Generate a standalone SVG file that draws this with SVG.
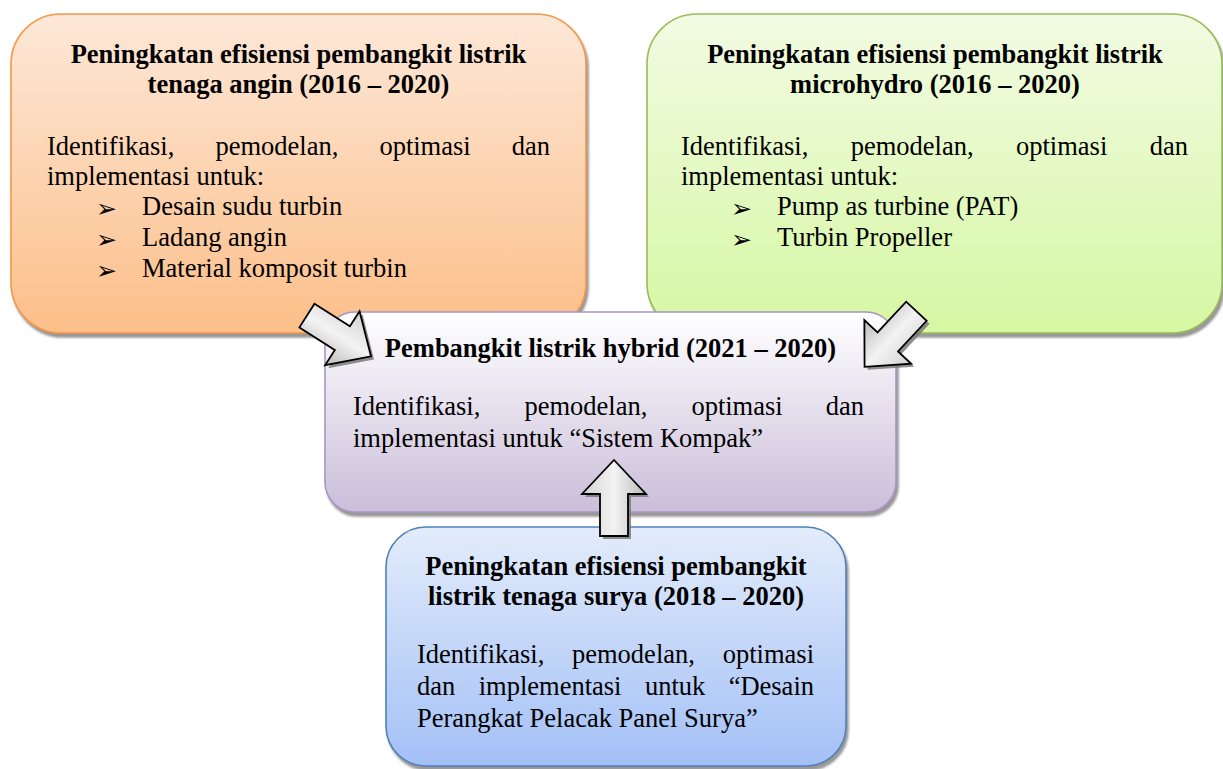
<svg xmlns="http://www.w3.org/2000/svg" xmlns:xlink="http://www.w3.org/1999/xlink" width="1223" height="769" viewBox="0 0 1223 769">
<style>
.t{font-family:"Liberation Serif","Times New Roman",serif;font-size:26.5px;fill:#000}
.b{font-weight:bold}
.m{text-anchor:middle}
.e{text-anchor:end}
.bul{font-family:"DejaVu Sans",sans-serif;font-size:25px;fill:#000}
.arr{stroke:#000;stroke-width:1.8;stroke-linejoin:miter;fill:url(#gArr)}
.arrS{fill:#7a7a7a;opacity:0.85}
</style>
<defs>
<linearGradient id="gOr" x1="0" y1="0" x2="0" y2="1"><stop offset="0" stop-color="#fde8d8"/><stop offset="1" stop-color="#fcbf89"/></linearGradient>
<linearGradient id="gGr" x1="0" y1="0" x2="0" y2="1"><stop offset="0" stop-color="#f2fbe3"/><stop offset="1" stop-color="#d6f7a3"/></linearGradient>
<linearGradient id="gPu" x1="0" y1="0" x2="0" y2="1"><stop offset="0" stop-color="#ffffff"/><stop offset="1" stop-color="#cabed9"/></linearGradient>
<linearGradient id="gBl" x1="0" y1="0" x2="0" y2="1"><stop offset="0" stop-color="#e3ecfb"/><stop offset="1" stop-color="#a3c0f6"/></linearGradient>
<linearGradient id="gArr" x1="0" y1="0" x2="0" y2="1"><stop offset="0" stop-color="#d2d2d2"/><stop offset="0.5" stop-color="#f3f3f3"/><stop offset="1" stop-color="#bababa"/></linearGradient>
<filter id="sh" x="-5%" y="-5%" width="112%" height="115%">
<feGaussianBlur in="SourceAlpha" stdDeviation="0.8"/>
<feOffset dx="2" dy="4" result="o"/>
<feFlood flood-color="#8c8c8c" flood-opacity="0.9"/>
<feComposite in2="o" operator="in" result="s"/>
<feMerge><feMergeNode in="s"/><feMergeNode in="SourceGraphic"/></feMerge>
</filter>
<path id="blk" d="M -38,-14 H 4 V -32 L 38,0 L 4,32 V 14 H -38 Z"/>
</defs>

<g id="node-angin">
<rect x="11" y="14" width="575" height="319" rx="50" fill="url(#gOr)" stroke="#f79646" stroke-width="1.6" filter="url(#sh)"/>
<text class="t b m" x="298.5" y="63">Peningkatan efisiensi pembangkit listrik</text>
<text class="t b m" x="298.5" y="93">tenaga angin (2016 – 2020)</text>
<text class="t" y="155"><tspan x="47">Identifikasi,</tspan><tspan x="215.4">pemodelan,</tspan><tspan x="379.4">optimasi</tspan></text>
<text class="t e" x="550" y="155">dan</text>
<text class="t" x="47" y="185">implementasi untuk:</text>
<text class="bul" x="96" y="217">➢</text><text class="t" x="142" y="215">Desain sudu turbin</text>
<text class="bul" x="96" y="248">➢</text><text class="t" x="142" y="246">Ladang angin</text>
<text class="bul" x="96" y="279">➢</text><text class="t" x="142" y="277">Material komposit turbin</text>
</g>

<g id="node-microhydro">
<rect x="647" y="14" width="575" height="319" rx="50" fill="url(#gGr)" stroke="#9bbb59" stroke-width="1.6" filter="url(#sh)"/>
<text class="t b m" x="935" y="63">Peningkatan efisiensi pembangkit listrik</text>
<text class="t b m" x="935" y="93">microhydro (2016 – 2020)</text>
<text class="t" y="155"><tspan x="681">Identifikasi,</tspan><tspan x="850.7">pemodelan,</tspan><tspan x="1016">optimasi</tspan></text>
<text class="t e" x="1188" y="155">dan</text>
<text class="t" x="681" y="185">implementasi untuk:</text>
<text class="bul" x="731" y="217">➢</text><text class="t" x="777" y="215">Pump as turbine (PAT)</text>
<text class="bul" x="731" y="248">➢</text><text class="t" x="777" y="246">Turbin Propeller</text>
</g>

<g id="node-hybrid">
<rect x="325" y="312" width="571" height="200" rx="30" fill="url(#gPu)" stroke="#a996c4" stroke-width="1.6" filter="url(#sh)"/>
<text class="t b m" x="610.5" y="357">Pembangkit listrik hybrid (2021 – 2020)</text>
<text class="t" y="415"><tspan x="353">Identifikasi,</tspan><tspan x="524.4">pemodelan,</tspan><tspan x="691.4">optimasi</tspan></text>
<text class="t e" x="864" y="415">dan</text>
<text class="t" x="353" y="447">implementasi untuk “Sistem Kompak”</text>
</g>

<g id="node-surya">
<rect x="386" y="527" width="460" height="239" rx="40" fill="url(#gBl)" stroke="#4f81bd" stroke-width="1.6" filter="url(#sh)"/>
<text class="t b m" x="616" y="575">Peningkatan efisiensi pembangkit</text>
<text class="t b m" x="616" y="605">listrik tenaga surya (2018 – 2020)</text>
<text class="t" y="663"><tspan x="417">Identifikasi,</tspan><tspan x="572">pemodelan,</tspan></text>
<text class="t e" x="814" y="663">optimasi</text>
<text class="t" y="695"><tspan x="417">dan</tspan><tspan x="478.7">implementasi</tspan><tspan x="644.9">untuk</tspan></text>
<text class="t e" x="814" y="695">“Desain</text>
<text class="t" x="417" y="727">Perangkat Pelacak Panel Surya”</text>
</g>

<g id="connectors">
<use xlink:href="#blk" class="arrS" transform="translate(342,339) rotate(32.5)"/>
<use xlink:href="#blk" class="arr" transform="translate(339,336) rotate(32.5)"/>
<use xlink:href="#blk" class="arrS" transform="translate(893.5,342) rotate(133)"/>
<use xlink:href="#blk" class="arr" transform="translate(890.5,339) rotate(133)"/>
<use xlink:href="#blk" class="arrS" transform="translate(617,501) rotate(-90)"/>
<use xlink:href="#blk" class="arr" transform="translate(614,498) rotate(-90)"/>
</g>
</svg>
